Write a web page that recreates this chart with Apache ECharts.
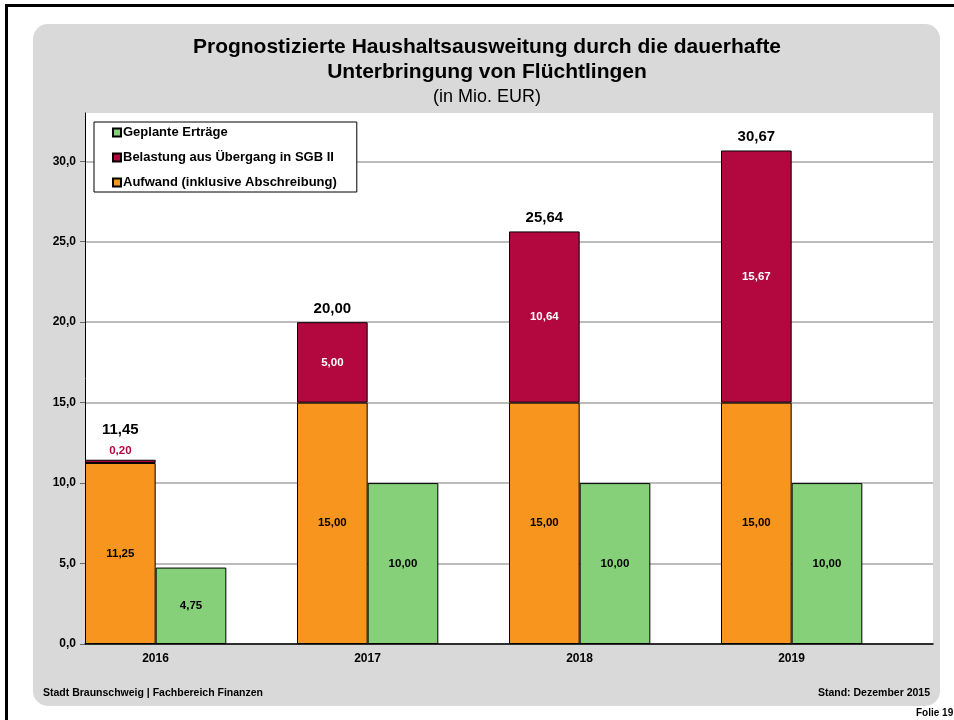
<!DOCTYPE html>
<html>
<head>
<meta charset="utf-8">
<style>html,body{margin:0;padding:0;background:#fff;}#c{width:954px;height:720px;}</style>
<script src="https://cdn.jsdelivr.net/npm/echarts@6/dist/echarts.min.js"></script>
</head>
<body>
<div id="c"></div>
<script>
var years = ['2016', '2017', '2018', '2019'];
var aufwand = [11.25, 15.00, 15.00, 15.00];
var belastung = [0.20, 5.00, 10.64, 15.67];
var ertraege = [4.75, 10.00, 10.00, 10.00];
var totals = [11.45, 20.00, 25.64, 30.67];
var yTicks = [0, 5, 10, 15, 20, 25, 30];

var FONT = '"Liberation Sans", Arial, sans-serif';
function de(v, d) { return v.toFixed(d).replace('.', ','); }

var chart = echarts.init(document.getElementById('c'), null, {renderer: 'canvas'});
var border = '#000';
var option = {
  animation: false,
  textStyle: {fontFamily: FONT},
  graphic: [
    {type: 'rect', z: -20, shape: {x: 6.5, y: 5.5, width: 1000, height: 800}, style: {fill: '#fff', stroke: '#000', lineWidth: 3}},
    {type: 'rect', z: -19, shape: {x: 33, y: 24, width: 907, height: 682, r: 15}, style: {fill: '#d9d9d9'}},
    {type: 'text', z: 10, x: 487, y: 35, style: {text: 'Prognostizierte Haushaltsausweitung durch die dauerhafte\nUnterbringung von Flüchtlingen', font: 'bold 21px ' + FONT, fill: '#000', textAlign: 'center', textVerticalAlign: 'top', lineHeight: 25}},
    {type: 'text', z: 10, x: 487, y: 88, style: {text: '(in Mio. EUR)', font: '18px ' + FONT, fill: '#000', textAlign: 'center', textVerticalAlign: 'top'}},
    {type: 'text', z: 10, left: 43, top: 688, style: {text: 'Stadt Braunschweig | Fachbereich Finanzen', font: 'bold 10.5px ' + FONT, fill: '#000'}},
    {type: 'text', z: 10, right: 24, top: 688, style: {text: 'Stand: Dezember 2015', font: 'bold 10.5px ' + FONT, fill: '#000', textAlign: 'right'}},
    {type: 'text', z: 10, left: 916, top: 708, style: {text: 'Folie 19', font: 'bold 10px ' + FONT, fill: '#000'}}
  ],
  legend: {
    data: ['Geplante Erträge', 'Belastung aus Übergang in SGB II', 'Aufwand (inklusive Abschreibung)'],
    orient: 'vertical', left: 94, top: 122,
    backgroundColor: '#fff', borderColor: '#000', borderWidth: 1, borderRadius: 0,
    padding: [4, 20, 3, 18], itemGap: 12, itemWidth: 8, itemHeight: 8, icon: 'rect',
    textStyle: {fontFamily: FONT, fontWeight: 'bold', fontSize: 13, color: '#000', padding: [0, 0, 0, -3]}
  },
  grid: {left: 85, right: 21, top: 113, bottom: 76, show: true, backgroundColor: '#fff', borderWidth: 0},
  xAxis: {
    type: 'category', data: years, boundaryGap: true,
    axisLine: {lineStyle: {color: '#000', width: 1.5}},
    axisTick: {show: false},
    axisLabel: {
      margin: 9,
      formatter: function (v) { return '{a|' + v + '}'; },
      rich: {a: {fontFamily: FONT, fontWeight: 'bold', fontSize: 12, color: '#000', padding: [0, 71, 0, 0]}}
    }
  },
  yAxis: {
    type: 'value', min: 0, max: 33, interval: 5,
    axisLine: {show: true, lineStyle: {color: '#000', width: 1}},
    axisTick: {show: true, length: 5, lineStyle: {color: '#666'}, customValues: yTicks},
    axisLabel: {
      fontFamily: FONT, fontWeight: 'bold', fontSize: 12, color: '#000', margin: 9,
      customValues: yTicks,
      formatter: function (v) { return yTicks.indexOf(v) >= 0 ? de(v, 1) : ''; }
    },
    splitLine: {show: true, lineStyle: {color: ['#a6a6a6','#a6a6a6','#a6a6a6','#a6a6a6','#a6a6a6','#a6a6a6','#a6a6a6','rgba(0,0,0,0)'], width: 1.5}}
  },
  series: [
    {
      name: 'Aufwand (inklusive Abschreibung)', type: 'bar', stack: 'a', data: aufwand,
      barGap: '0%', barCategoryGap: '0%',
      itemStyle: {color: '#F7951E', borderColor: border, borderWidth: 1},
      label: {show: true, position: 'inside', formatter: function (p) { return de(p.value, 2); }, fontFamily: FONT, fontWeight: 'bold', fontSize: 11.5, color: '#000'}
    },
    {
      name: 'Belastung aus Übergang in SGB II', type: 'bar', stack: 'a',
      data: belastung.map(function (v, i) {
        return i === 0 ? {value: v, label: {position: 'top', distance: 3, color: '#B2073F'}} : v;
      }),
      itemStyle: {color: '#B2073F', borderColor: border, borderWidth: 1},
      label: {show: true, position: 'inside', formatter: function (p) { return de(p.value, 2); }, fontFamily: FONT, fontWeight: 'bold', fontSize: 11.5, color: '#fff'}
    },
    {
      name: 'total', type: 'bar', stack: 'a',
      data: totals.map(function (t, i) { return i === 0 ? {value: 0, label: {distance: 22}} : 0; }),
      itemStyle: {color: 'rgba(0,0,0,0)', borderWidth: 0},
      label: {show: true, position: 'top', distance: 6, formatter: function (p) { return de(totals[p.dataIndex], 2); }, fontFamily: FONT, fontWeight: 'bold', fontSize: 15, color: '#000'}
    },
    {
      name: 'Geplante Erträge', type: 'bar', data: ertraege,
      itemStyle: {color: '#87D07A', borderColor: border, borderWidth: 1},
      label: {show: true, position: 'inside', formatter: function (p) { return de(p.value, 2); }, fontFamily: FONT, fontWeight: 'bold', fontSize: 11.5, color: '#000'}
    },
    {
      name: 'spacer', type: 'bar', data: years.map(function () { return 0; }),
      itemStyle: {color: 'rgba(0,0,0,0)'}, silent: true
    }
  ]
};
chart.setOption(option);
</script>
</body>
</html>
